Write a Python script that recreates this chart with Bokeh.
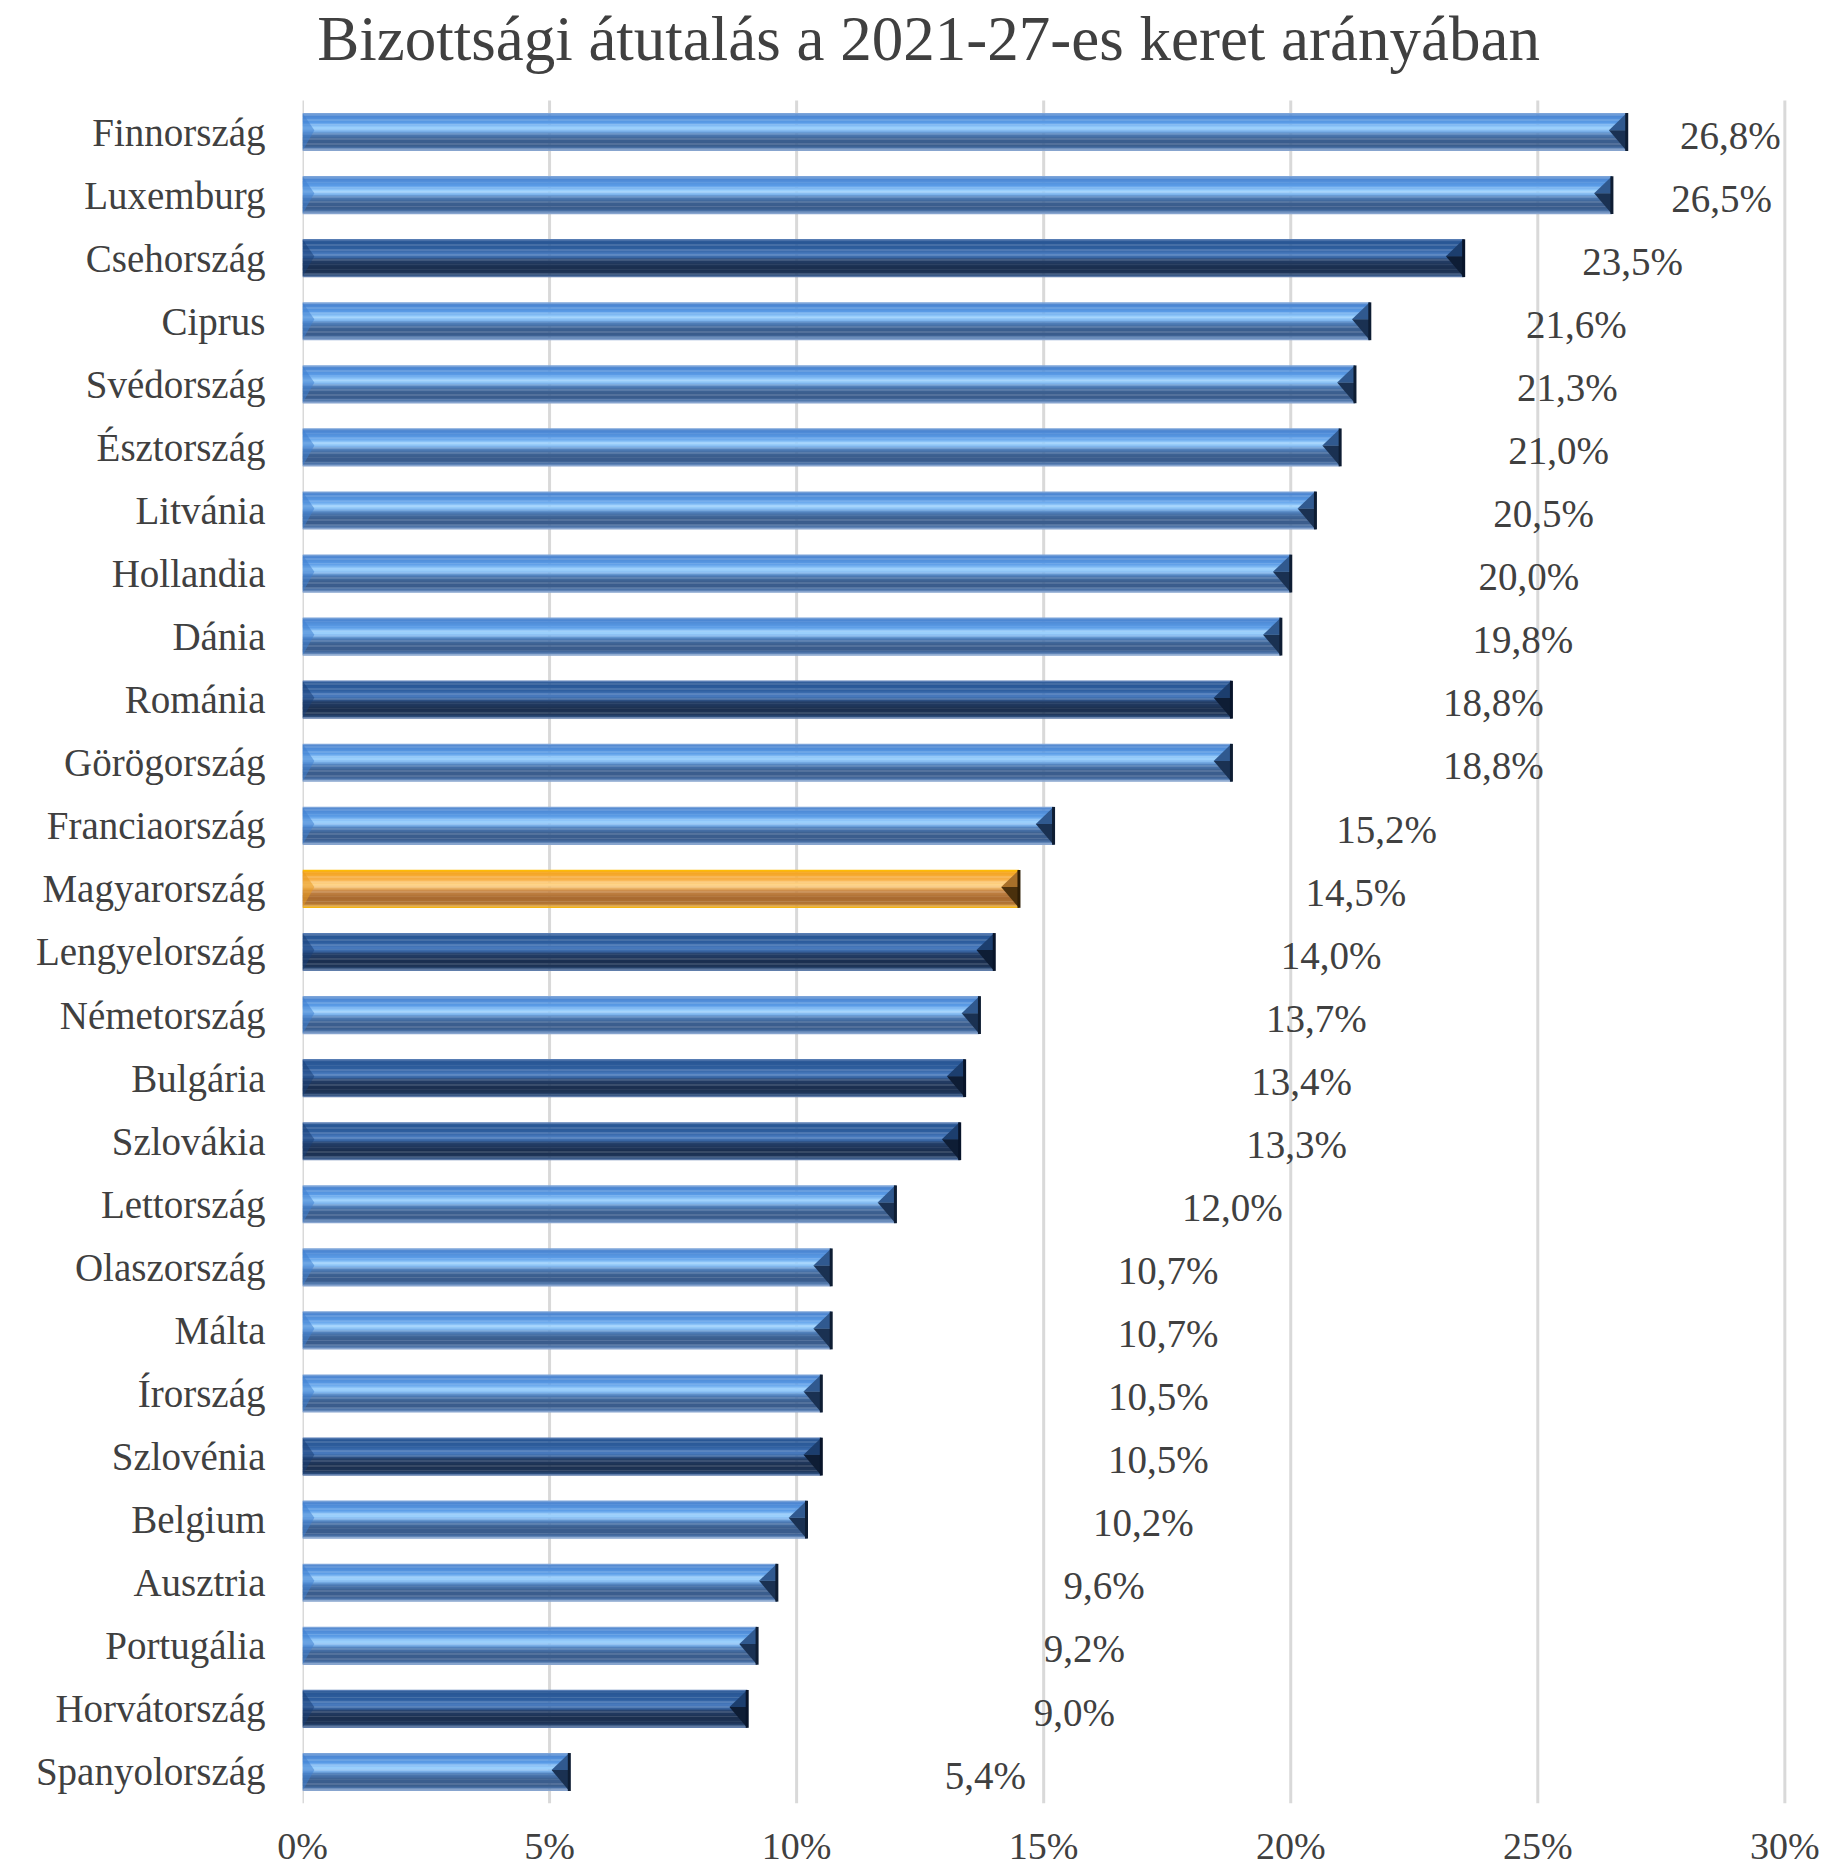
from bokeh.plotting import figure
from bokeh.models import Range1d, FixedTicker, CustomJSTickFormatter, PrintfTickFormatter, ColumnDataSource
from bokeh.embed import file_html
from bokeh.resources import INLINE
from bokeh.core.properties import value

# ---------------- data ----------------
countries = ["Finnország", "Luxemburg", "Csehország", "Ciprus", "Svédország", "Észtország",
             "Litvánia", "Hollandia", "Dánia", "Románia", "Görögország", "Franciaország",
             "Magyarország", "Lengyelország", "Németország", "Bulgária", "Szlovákia",
             "Lettország", "Olaszország", "Málta", "Írország", "Szlovénia", "Belgium",
             "Ausztria", "Portugália", "Horvátország", "Spanyolország"]
shares = [26.8, 26.5, 23.5, 21.6, 21.3, 21.0, 20.5, 20.0, 19.8, 18.8, 18.8, 15.2, 14.5,
          14.0, 13.7, 13.4, 13.3, 12.0, 10.7, 10.7, 10.5, 10.5, 10.2, 9.6, 9.2, 9.0, 5.4]
groups = ["light", "light", "dark", "light", "light", "light", "light", "light", "light",
          "dark", "light", "light", "hu", "dark", "light", "dark", "dark", "light", "light",
          "light", "light", "dark", "light", "light", "light", "dark", "light"]
x_ticks = [0, 5, 10, 15, 20, 25, 30]
title_text = "Bizottsági átutalás a 2021-27-es keret arányában"

# ---------------- style ----------------
FONT = "Liberation Serif"
TXT = "#404040"
ROW_PX = 63.08          # pixel height of one category row
TOP_PX = 100            # space above the first row that holds the title
profiles = {
    "light": [(0.00, "#8fb0dc"), (0.06, "#4a84d0"), (0.25, "#5a9be6"), (0.40, "#a2d5ff"),
              (0.48, "#80b6ee"), (0.56, "#4e7db8"), (0.70, "#3c5f8f"), (0.86, "#3a5c8c"),
              (0.93, "#4a72a8"), (1.00, "#9ab4da")],
    "dark": [(0.00, "#6a8cc0"), (0.06, "#285694"), (0.25, "#2e5e9e"), (0.40, "#4a7cc0"),
             (0.48, "#3a68a6"), (0.56, "#243f68"), (0.75, "#1b2f4f"), (0.88, "#1e3456"),
             (0.95, "#2c4c7a"), (1.00, "#7a96c2")],
    "hu": [(0.00, "#ffc000"), (0.08, "#f5a623"), (0.25, "#f7b04a"), (0.40, "#ffd890"),
           (0.48, "#f0b868"), (0.56, "#c88848"), (0.75, "#a86a30"), (0.88, "#b07434"),
           (0.95, "#d89a3c"), (1.00, "#ffc000")],
}
bevel_up = {"light": "#30598f", "dark": "#1c3e6e", "hu": "#a8702a"}
bevel_lo = {"light": "#1a3152", "dark": "#0e1d35", "hu": "#4a300c"}
edge = {"light": "#0e1d33", "dark": "#08142a", "hu": "#2e1e06"}
left_tri = {"light": "#3f7fd0", "dark": "#1a3f78", "hu": "#e89a20"}


def hex2rgb(h):
    return tuple(int(h[i:i + 2], 16) for i in (1, 3, 5))


def interp(profile, t):
    for (t0, c0), (t1, c1) in zip(profile, profile[1:]):
        if t0 <= t <= t1:
            f = (t - t0) / (t1 - t0) if t1 > t0 else 0
            a, b = hex2rgb(c0), hex2rgb(c1)
            return "#%02x%02x%02x" % tuple(round(a[k] + (b[k] - a[k]) * f) for k in range(3))
    return profile[-1][1]


n = len(countries)
idx = list(range(n))
y_top = -0.5 - TOP_PX / ROW_PX

p = figure(width=1837, height=1869, output_backend="svg", toolbar_location=None,
           x_range=Range1d(0, 30.6), y_range=Range1d(n - 0.5, y_top),
           min_border_left=302, min_border_right=23, min_border_top=0, min_border_bottom=66)
p.outline_line_color = None
p.background_fill_color = "white"

# title, drawn inside the (extended) frame
p.text(x=[12.67], y=[-0.5 - 61.5 / ROW_PX], text=[title_text], text_font=value(FONT),
       text_font_size="63px", text_color=TXT, text_align="center", text_baseline="middle")

# vertical grid lines restricted to the bar area
p.xgrid.grid_line_color = None
p.ygrid.grid_line_color = None
p.segment(x0=x_ticks, x1=x_ticks, y0=[-0.5] * len(x_ticks), y1=[n - 0.5] * len(x_ticks),
          line_color="#d9d9d9", line_width=3, level="underlay")

# axes
p.xaxis.ticker = FixedTicker(ticks=x_ticks)
p.xaxis.formatter = PrintfTickFormatter(format="%d%%")
p.yaxis.ticker = FixedTicker(ticks=idx)
p.yaxis.formatter = CustomJSTickFormatter(args=dict(names=countries),
                                          code="return names[Math.round(tick)];")
for ax in (p.xaxis[0], p.yaxis[0]):
    ax.axis_line_color = None
    ax.major_tick_line_color = None
    ax.minor_tick_line_color = None
    ax.major_tick_out = 0
    ax.major_tick_in = 0
    ax.major_label_text_font = FONT
    ax.major_label_text_color = TXT
p.xaxis.major_label_text_font_size = "38px"
p.yaxis.major_label_text_font_size = "39px"
p.xaxis.major_label_standoff = 21
p.yaxis.major_label_standoff = 37

# bars built from thin gradient slices
bar_h = 0.6
N = 30
for k in range(N):
    t = (k + 0.5) / N
    ys = [i - bar_h / 2 + (k + 0.5) * bar_h / N for i in idx]
    cols = [interp(profiles[g], t) for g in groups]
    p.hbar(y=ys, left=0, right=shares, height=bar_h / N * 1.25,
           fill_color=cols, line_color=None)

# bevel ends
d_r = 0.36
d_l = 0.24
up_xs, up_ys, lo_xs, lo_ys, lt_xs, lt_ys = [], [], [], [], [], []
for i, v in zip(idx, shares):
    top, mid, bot = i - bar_h / 2, i - bar_h * 0.05, i + bar_h / 2
    up_xs.append([v, v - d_r, v]); up_ys.append([top, mid, mid])
    lo_xs.append([v, v - d_r, v]); lo_ys.append([mid, mid, bot])
    lt_xs.append([0, d_l, 0]); lt_ys.append([top, mid, bot])
p.patches(xs=up_xs, ys=up_ys, fill_color=[bevel_up[g] for g in groups], line_color=None)
p.patches(xs=lo_xs, ys=lo_ys, fill_color=[bevel_lo[g] for g in groups], line_color=None)
p.patches(xs=lt_xs, ys=lt_ys, fill_color=[left_tri[g] for g in groups], fill_alpha=0.55,
          line_color=None)
p.segment(x0=shares, x1=shares, y0=[i - bar_h / 2 for i in idx], y1=[i + bar_h / 2 for i in idx],
          line_color=[edge[g] for g in groups], line_width=3)

# value labels (placement mimics the original's drifting label positions)
lab_x = [v + 5.8 - 0.4 * max(v - 15, 0) + 0.5 * max(9 - v, 0) for v in shares]
lab_txt = [("%.1f" % v).replace(".", ",") + "%" for v in shares]
src = ColumnDataSource(dict(x=lab_x, y=[i + 0.05 for i in idx], t=lab_txt))
p.text(x="x", y="y", text="t", source=src, text_font=value(FONT), text_font_size="39px",
       text_color=TXT, text_align="left", text_baseline="middle")

open("out.html", "w").write(file_html(p, INLINE))
